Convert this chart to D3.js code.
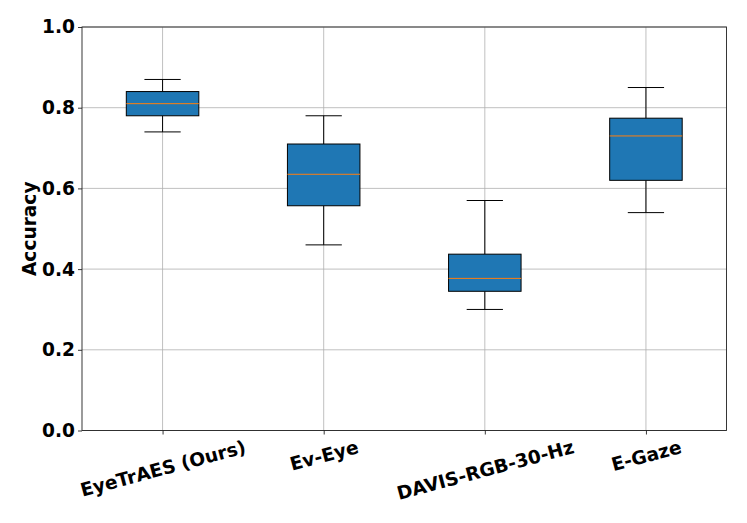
<!DOCTYPE html>
<html>
<head>
<meta charset="utf-8">
<script src="https://cdn.jsdelivr.net/npm/d3@7"></script>
<style>
  body { margin: 0; background: #fff; }
  svg { display: block; }
  text { font-family: "DejaVu Sans", sans-serif; font-weight: bold; fill: #000; }
</style>
</head>
<body>
<svg id="chart" width="747" height="523"></svg>
<script>
// ---- data ----
const categories = ["EyeTrAES (Ours)", "Ev-Eye", "DAVIS-RGB-30-Hz", "E-Gaze"];
const whiskerLow  = [0.74, 0.46, 0.30, 0.54];
const q1          = [0.78, 0.557, 0.345, 0.62];
const median      = [0.81, 0.635, 0.377, 0.73];
const q3          = [0.84, 0.71, 0.437, 0.774];
const whiskerHigh = [0.87, 0.78, 0.57, 0.85];
const yTicks = [0.0, 0.2, 0.4, 0.6, 0.8, 1.0];
const yLabel = "Accuracy";

(function () {
// ---- layout ----
const svg = d3.select("#chart");
const L = 82, R = 726.5, T = 27, B = 430.5;
const fontSize = 18.6;

const x = d3.scaleLinear().domain([0.5, categories.length + 0.5]).range([L, R]);
const y = d3.scaleLinear().domain([0, 1]).range([B, T]);
const boxW = 0.45;

// grid
const g = svg.append("g");
g.selectAll("line.gy").data(yTicks).enter().append("line")
  .attr("x1", L).attr("x2", R)
  .attr("y1", d => y(d)).attr("y2", d => y(d))
  .attr("stroke", "#b0b0b0").attr("stroke-width", 0.8);
g.selectAll("line.gx").data(categories).enter().append("line")
  .attr("x1", (d, i) => x(i + 1)).attr("x2", (d, i) => x(i + 1))
  .attr("y1", T).attr("y2", B)
  .attr("stroke", "#b0b0b0").attr("stroke-width", 0.8);

// boxes
const data = categories.map((c, i) => ({
  c, i, lo: whiskerLow[i], q1: q1[i], med: median[i], q3: q3[i], hi: whiskerHigh[i]
}));
const bx = svg.append("g").selectAll("g").data(data).enter().append("g");
bx.append("line")
  .attr("x1", d => x(d.i + 1)).attr("x2", d => x(d.i + 1))
  .attr("y1", d => y(d.q1)).attr("y2", d => y(d.lo))
  .attr("stroke", "#000").attr("stroke-width", 1);
bx.append("line")
  .attr("x1", d => x(d.i + 1)).attr("x2", d => x(d.i + 1))
  .attr("y1", d => y(d.q3)).attr("y2", d => y(d.hi))
  .attr("stroke", "#000").attr("stroke-width", 1);
["lo", "hi"].forEach(k => {
  bx.append("line")
    .attr("x1", d => x(d.i + 1 - boxW / 4)).attr("x2", d => x(d.i + 1 + boxW / 4))
    .attr("y1", d => y(d[k])).attr("y2", d => y(d[k]))
    .attr("stroke", "#000").attr("stroke-width", 1);
});
bx.append("rect")
  .attr("x", d => x(d.i + 1 - boxW / 2))
  .attr("width", d => x(d.i + 1 + boxW / 2) - x(d.i + 1 - boxW / 2))
  .attr("y", d => y(d.q3))
  .attr("height", d => y(d.q1) - y(d.q3))
  .attr("fill", "#1f77b4").attr("stroke", "#000").attr("stroke-width", 1);
bx.append("line")
  .attr("x1", d => x(d.i + 1 - boxW / 2)).attr("x2", d => x(d.i + 1 + boxW / 2))
  .attr("y1", d => y(d.med)).attr("y2", d => y(d.med))
  .attr("stroke", "#ff7f0e").attr("stroke-width", 1);

// frame
svg.append("rect").attr("x", L).attr("y", T)
  .attr("width", R - L).attr("height", B - T)
  .attr("fill", "none").attr("stroke", "#222").attr("stroke-width", 0.9);

// y axis
const yAxis = d3.axisLeft(y).tickValues(yTicks).tickFormat(d3.format(".1f"))
  .tickSize(4).tickPadding(3);
const ya = svg.append("g").attr("transform", `translate(${L},0)`).call(yAxis);
ya.select(".domain").remove();
ya.selectAll(".tick line").attr("stroke", "#222").attr("stroke-width", 0.9);
ya.selectAll(".tick text").attr("font-size", fontSize)
  .attr("font-family", "DejaVu Sans").attr("font-weight", "bold").attr("fill", "#000");

// x axis
const xAxis = d3.axisBottom(x).tickValues(categories.map((c, i) => i + 1))
  .tickFormat(v => categories[v - 1]).tickSize(4).tickPadding(3);
const xa = svg.append("g").attr("transform", `translate(0,${B})`).call(xAxis);
xa.select(".domain").remove();
xa.selectAll(".tick line").attr("stroke", "#222").attr("stroke-width", 0.9);
const ang = 15 * Math.PI / 180;
xa.selectAll(".tick text")
  .attr("font-size", fontSize)
  .attr("font-family", "DejaVu Sans").attr("font-weight", "bold").attr("fill", "#000")
  .attr("text-anchor", "middle")
  .attr("dy", null)
  .attr("dominant-baseline", "central")
  .each(function () {
    const t = d3.select(this);
    t.attr("y", 0);
    const b = this.getBBox();
    const w = b.width, h = fontSize * 1.16;
    const H = w * Math.sin(ang) + h * Math.cos(ang);
    const cy = 4 + 1.5 + H / 2;
    t.attr("transform", `translate(0,${cy}) rotate(-15)`);
  });

// y label
svg.append("text")
  .attr("transform", `translate(29,${(T + B) / 2}) rotate(-90)`)
  .attr("text-anchor", "middle").attr("dominant-baseline", "central")
  .attr("font-size", fontSize)
  .text(yLabel);
})();
</script>
</body>
</html>
